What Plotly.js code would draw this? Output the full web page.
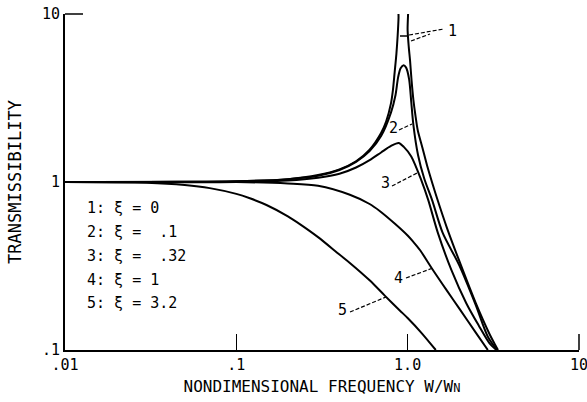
<!DOCTYPE html>
<html>
<head>
<meta charset="utf-8">
<script src="https://cdn.plot.ly/plotly-3.0.1.min.js"></script>
<style>html,body{margin:0;padding:0;background:#fff;}#chart{width:587px;height:402px;}</style>
</head>
<body>
<div id="chart"></div>
<script>
// ---- data ----
var r1 = [0.01, 0.1, 0.2, 0.3, 0.4, 0.5, 0.6, 0.7, 0.75, 0.8, 0.82, 0.84, 0.86, 0.875, 0.885, 0.89, 0.99, 1.0, 1.015, 1.033, 1.055, 1.08, 1.11, 1.145, 1.22, 1.3, 1.4, 1.485, 1.7, 2.0, 2.5, 3.0, 3.2, 3.37];
var t1 = [1.0, 1.01, 1.04, 1.1, 1.19, 1.33, 1.56, 1.96, 2.3, 2.95, 3.5, 4.5, 5.8, 7.5, 9.5, 16, 16, 8.0, 6.4, 5.3, 4.0, 3.1, 2.5, 2.04, 1.6, 1.25, 0.97, 0.8, 0.53, 0.34, 0.19, 0.125, 0.11, 0.1];

var r2 = [0.01, 0.1, 0.2, 0.3, 0.4, 0.5, 0.6, 0.7, 0.8, 0.85, 0.88, 0.91, 0.947, 0.98, 1.02, 1.05, 1.08, 1.15, 1.25, 1.39, 1.6, 2.0, 2.5, 2.94, 3.33];
var t2 = [1.0, 1.01, 1.04, 1.09, 1.18, 1.32, 1.53, 1.88, 2.6, 3.3, 4.2, 4.75, 4.95, 4.8, 4.1, 3.0, 2.2, 1.45, 1.05, 0.78, 0.5, 0.32, 0.185, 0.12, 0.1];

var r3 = [0.01, 0.1, 0.2, 0.3, 0.4, 0.5, 0.6, 0.7, 0.8, 0.886, 0.95, 1.05, 1.2, 1.32, 1.5, 1.8, 2.2, 2.6, 3.0, 3.3];
var t3 = [1.0, 1.0, 1.02, 1.06, 1.12, 1.22, 1.35, 1.5, 1.64, 1.71, 1.62, 1.42, 1.03, 0.78, 0.5, 0.3, 0.19, 0.14, 0.11, 0.1];

var r4 = [0.01, 0.1, 0.2, 0.3, 0.46, 0.6, 0.69, 0.85, 1.0, 1.08, 1.18, 1.38, 1.7, 2.0, 2.5, 2.94];
var t4 = [1.0, 1.0, 0.98, 0.95, 0.84, 0.74, 0.67, 0.56, 0.48, 0.44, 0.394, 0.308, 0.225, 0.177, 0.127, 0.1];

var r5 = [0.01, 0.03, 0.05, 0.07, 0.1, 0.12, 0.15, 0.2, 0.236, 0.3, 0.4, 0.46, 0.6, 0.738, 0.9, 1.0, 1.2, 1.46];
var t5 = [1.0, 0.99, 0.96, 0.92, 0.85, 0.8, 0.73, 0.625, 0.56, 0.47, 0.37, 0.33, 0.26, 0.21, 0.172, 0.155, 0.127, 0.1];

var curveLabels = ["1", "2", "3", "4", "5"];
var dampingText = ["1: \u03BE = 0", "2: \u03BE =  .1", "3: \u03BE =  .32", "4: \u03BE = 1", "5: \u03BE = 3.2"];

var xTickVals = [0.01, 0.1, 1, 10];
var xTickText = [".01", ".1", "1.0", "10"];
var yTickVals = [0.1, 1, 10];
var yTickText = [".1", "1", "10"];

// ---- layout helpers (pixel -> paper) ----
var L = 65, R = 579, T = 14, B = 350;
function px(x) { return (x - L) / (R - L); }
function py(y) { return (B - y) / (B - T); }

var FONT = "DejaVu Sans Mono, monospace";

var series = [[r1, t1], [r2, t2], [r3, t3], [r4, t4], [r5, t5]];
var traces = series.map(function (s, i) {
  return {x: s[0], y: s[1], type: "scatter", mode: "lines",
          line: {color: "#000", width: 2, shape: "spline", smoothing: 0.8},
          name: curveLabels[i], showlegend: false, hoverinfo: "skip", cliponaxis: true};
});

// label text positions and leader lines (pixel coordinates)
var labelPos = [[452, 31], [393, 128], [385, 183], [398, 278], [342, 310]];
var leaders = [
  [[409, 35], [444, 29]],
  [[411, 41], [430, 34]],
  [[399, 130], [412, 124]],
  [[392, 186], [419, 172]],
  [[406, 278], [433, 268]],
  [[350, 312], [386, 297]]
];

var annotations = [];
curveLabels.forEach(function (t, i) {
  annotations.push({text: t, xref: "paper", yref: "paper", x: px(labelPos[i][0]), y: py(labelPos[i][1]),
    showarrow: false, xanchor: "center", yanchor: "middle", font: {family: FONT, size: 15, color: "#000"}});
});
var legendY = [208, 232, 256, 280, 303];
dampingText.forEach(function (t, i) {
  annotations.push({text: t.replace(/ /g, "\u00A0"), xref: "paper", yref: "paper", x: px(85), y: py(legendY[i]),
    showarrow: false, xanchor: "left", yanchor: "middle", font: {family: FONT, size: 15, color: "#000"}});
});

var shapes = leaders.map(function (seg) {
  return {type: "line", xref: "paper", yref: "paper",
    x0: px(seg[0][0]), y0: py(seg[0][1]), x1: px(seg[1][0]), y1: py(seg[1][1]),
    line: {color: "#000", width: 1.2, dash: "4px,2px"}};
});
// crossbar joining the two branches of curve 1
shapes.push({type: "line", xref: "paper", yref: "paper", x0: px(400), y0: py(36), x1: px(408), y1: py(36),
  line: {color: "#000", width: 1.5}});
// end ticks at the range limits (Plotly hides ticks lying on the axis ends)
shapes.push({type: "line", xref: "paper", yref: "paper", x0: 0, y0: 1, x1: px(83), y1: 1,
  line: {color: "#000", width: 1.5}});
shapes.push({type: "line", xref: "paper", yref: "paper", x0: 1, y0: 0, x1: 1, y1: py(334),
  line: {color: "#000", width: 1.5}});

var layout = {
  width: 587, height: 402,
  margin: {l: L, r: 587 - R, t: T, b: 402 - B},
  paper_bgcolor: "#fff", plot_bgcolor: "#fff",
  showlegend: false,
  font: {family: FONT, size: 15, color: "#000"},
  xaxis: {
    type: "log", range: [-2, 1.0004], showgrid: false, zeroline: false,
    showline: true, linecolor: "#000", linewidth: 2,
    ticks: "inside", ticklen: 16, tickwidth: 1.5, tickcolor: "#000",
    tickvals: xTickVals, ticktext: xTickText, tickfont: {family: FONT, size: 15},
    ticklabeloverflow: "allow",
    title: {text: "NONDIMENSIONAL FREQUENCY W/W<span style='font-size:12px'>N</span>", font: {family: FONT, size: 16}, standoff: 8}
  },
  yaxis: {
    type: "log", range: [-1, 1.0004], showgrid: false, zeroline: false,
    showline: true, linecolor: "#000", linewidth: 2,
    ticks: "inside", ticklen: 18, tickwidth: 1.5, tickcolor: "#000",
    tickvals: yTickVals, ticktext: yTickText, tickfont: {family: FONT, size: 15},
    ticklabeloverflow: "allow",
    title: {text: "TRANSMISSIBILITY", font: {family: FONT, size: 17}, standoff: 16}
  },
  annotations: annotations,
  shapes: shapes
};

Plotly.newPlot("chart", traces, layout, {staticPlot: true, displayModeBar: false});
</script>
</body>
</html>
